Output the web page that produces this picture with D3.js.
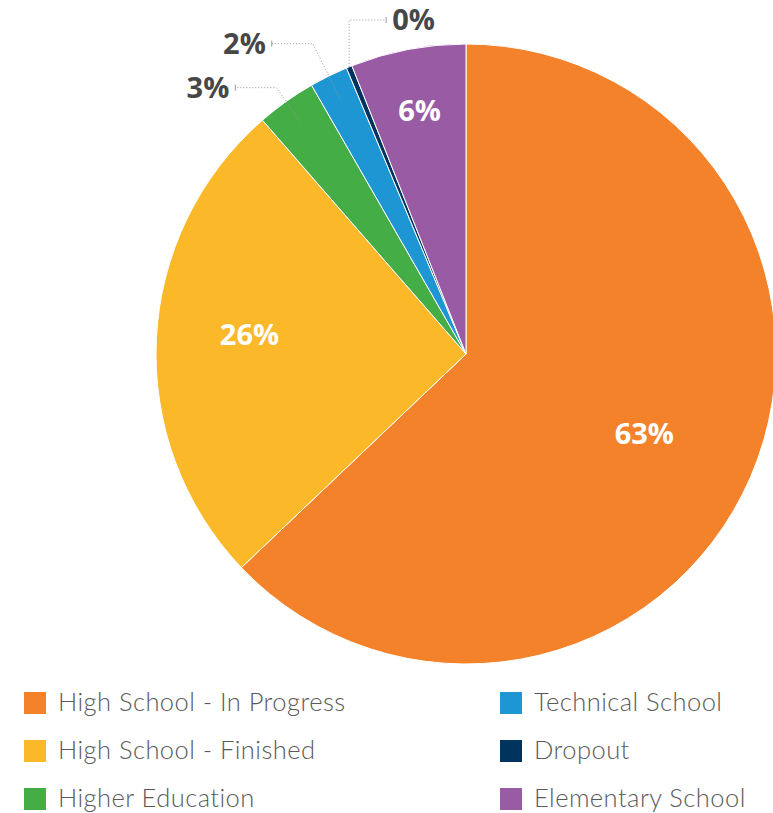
<!DOCTYPE html>
<html>
<head>
<meta charset="utf-8">
<script src="https://cdn.jsdelivr.net/npm/d3@7"></script>
<style>
  body { margin: 0; background: #fff; }
  svg { display: block; }
</style>
</head>
<body>
<script>
var categories = ["High School - In Progress", "High School - Finished", "Higher Education",
                  "Technical School", "Dropout", "Elementary School"];
var values = [62.9, 25.7, 3.1, 2.0, 0.3, 6.0];
var colors = ["#f4822a", "#fbb829", "#44ad45", "#1e96d4", "#00335e", "#9a5ba5"];

var width = 773, height = 813;
var cx = 466, cy = 354, R = 310;

var svg = d3.select("body").append("svg")
    .attr("width", width)
    .attr("height", height);

var data = categories.map(function(c, i){ return {name: c, value: values[i], color: colors[i]}; });

var pie = d3.pie().sort(null).value(function(d){ return d.value; });
var arcs = pie(data);
var arc = d3.arc().innerRadius(0).outerRadius(R);

var g = svg.append("g").attr("transform", "translate(" + cx + "," + cy + ")");

// slices
g.selectAll("path.slice")
    .data(arcs)
    .enter()
    .append("path")
    .attr("class", "slice")
    .attr("d", arc)
    .attr("fill", function(d){ return d.data.color; })
    .attr("stroke", "#fff")
    .attr("stroke-width", 1);

var total = d3.sum(values);
function pct(d){ return Math.round(d.data.value / total * 100) + "%"; }
function mid(d){ return (d.startAngle + d.endAngle) / 2; }

// big slices: labels inside; label radius depends on share of slice
var inside = arcs.filter(function(d){ return d.data.value / total >= 0.05; });
var labelR = d3.scaleLinear().domain([0.06, 0.26, 0.63]).range([R * 0.80, R * 0.70, R * 0.63]).clamp(true);
var labelTurn = d3.scaleLinear().domain([0.06, 0.26, 0.63]).range([0, 0.045, 0.015]).clamp(true);

g.selectAll("text.inside")
    .data(inside)
    .enter()
    .append("text")
    .attr("class", "inside")
    .attr("x", function(d){ var s = d.data.value / total; return Math.sin(mid(d) + labelTurn(s)) * labelR(s); })
    .attr("y", function(d){ var s = d.data.value / total; return -Math.cos(mid(d) + labelTurn(s)) * labelR(s); })
    .attr("dy", "0.36em")
    .attr("text-anchor", "middle")
    .attr("fill", "#fff")
    .style("font-family", "'Open Sans', sans-serif")
    .style("font-weight", 700)
    .style("font-size", "29px")
    .text(pct);

// small slices: callouts outside, pushed apart when they collide
var outside = arcs.filter(function(d){ return d.data.value / total < 0.05; });
outside.sort(function(a, b){ return mid(a) - mid(b); });
var gap = 44, topY = 20 - cy, lastY = null;
outside.forEach(function(d){
    var a = mid(d);
    var natural = -Math.cos(a) * (R + 17);
    var y = lastY === null ? natural : Math.min(natural, lastY - gap);
    if (y < topY) {
        // no room left on this side, flip to the right
        d.side = 1;
        d.ly = topY;
        d.start = [Math.sin(a) * R, -Math.cos(a) * R];
        d.elbow = [d.start[0], topY];
        d.end = [d.start[0] + 37, topY];
    } else {
        d.side = -1;
        d.ly = y;
        d.start = [Math.sin(a) * (R - 26), -Math.cos(a) * (R - 26)];
        var r = -y / Math.cos(a);
        d.elbow = [Math.sin(a) * r, y];
        d.end = [d.elbow[0] - 41, y];
        lastY = y;
    }
});

var line = d3.line();
g.selectAll("path.callout")
    .data(outside)
    .enter()
    .append("path")
    .attr("class", "callout")
    .attr("d", function(d){ return line([d.start, d.elbow, d.end]); })
    .attr("fill", "none")
    .attr("stroke", "#999")
    .attr("stroke-width", 1)
    .attr("stroke-dasharray", "1,2");

g.selectAll("path.tick")
    .data(outside)
    .enter()
    .append("path")
    .attr("class", "tick")
    .attr("d", function(d){ return line([[d.end[0], d.end[1] - 3], [d.end[0], d.end[1] + 3]]); })
    .attr("stroke", "#999")
    .attr("stroke-width", 1);

g.selectAll("text.outside")
    .data(outside)
    .enter()
    .append("text")
    .attr("class", "outside")
    .attr("x", function(d){ return d.end[0] + d.side * 6; })
    .attr("y", function(d){ return d.ly; })
    .attr("dy", "0.36em")
    .attr("text-anchor", function(d){ return d.side < 0 ? "end" : "start"; })
    .attr("fill", "#474747")
    .style("font-family", "'Open Sans', sans-serif")
    .style("font-weight", 700)
    .style("font-size", "29px")
    .text(pct);

// legend, two columns of three
var colX = d3.scalePoint().domain([0, 1]).range([24, 500]);
var rowY = d3.scalePoint().domain([0, 1, 2]).range([692, 788]);

var items = svg.selectAll("g.legend")
    .data(data)
    .enter()
    .append("g")
    .attr("class", "legend")
    .attr("transform", function(d, i){
        return "translate(" + colX(Math.floor(i / 3)) + "," + rowY(i % 3) + ")";
    });

items.append("rect")
    .attr("width", 22)
    .attr("height", 22)
    .attr("fill", function(d){ return d.color; });

items.append("text")
    .attr("x", 34)
    .attr("y", 19)
    .attr("fill", "#5a5a5a")
    .style("font-family", "Lato, sans-serif")
    .style("font-weight", 300)
    .style("font-size", "25.5px")
    .style("letter-spacing", "0.45px")
    .text(function(d){ return d.name; });
</script>
</body>
</html>
